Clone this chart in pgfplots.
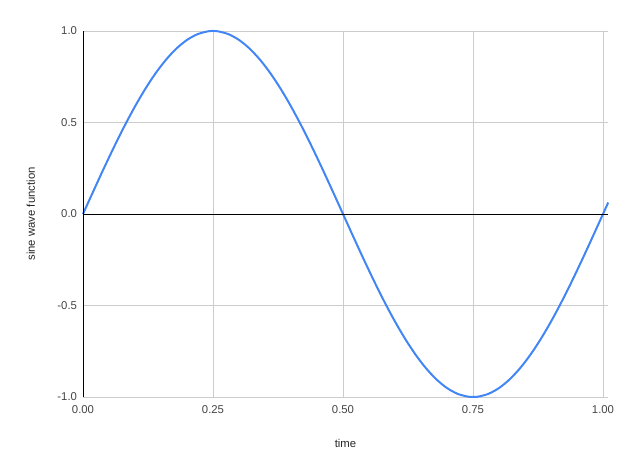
\documentclass[border=0pt]{standalone}
\usepackage{pgfplots}
\pgfplotsset{compat=1.18}
\usepackage{fontspec}
\setmainfont{Liberation Sans}
\definecolor{wave}{HTML}{4285F4}
\definecolor{gridc}{HTML}{CCCCCC}
\definecolor{tickc}{HTML}{444444}

\begin{document}
\begin{tikzpicture}[x=1pt,y=1pt]
\path[use as bounding box] (-62.25pt,-57pt) rectangle (411.75pt,297.75pt);
\begin{axis}[at={(0,0)}, anchor=south west, scale only axis,
  width=393.75pt, height=274.5pt,
  xmin=0, xmax=1.0096, ymin=-1, ymax=1,
  xtick={0,0.25,0.5,0.75,1}, ytick={-1,-0.5,0,0.5,1},
  xticklabel style={/pgf/number format/.cd, fixed, fixed zerofill, precision=2},
  yticklabel style={/pgf/number format/.cd, fixed, fixed zerofill, precision=1},
  /pgf/number format/assume math mode=true,
  tick label style={font=\fontsize{8.5}{10}\selectfont, text=tickc},
  label style={font=\fontsize{8.5}{10}\selectfont, text=black!85},
  major tick length=0pt,
  grid=major, grid style={gridc, line width=0.6pt},
  axis line style={draw=none},
  xticklabel shift=3pt, yticklabel shift=1pt,
  xlabel={time}, ylabel={sine wave function},
  xlabel style={yshift=-12pt}, ylabel style={yshift=10pt},
  clip=false]
  \addplot[wave, line width=1.5pt, smooth, line join=round] coordinates {
    (0,0) (0.02,0.1253) (0.04,0.2487) (0.06,0.3681) (0.08,0.4818) (0.10,0.5878)
    (0.12,0.6845) (0.14,0.7705) (0.16,0.8443) (0.18,0.9048) (0.20,0.9511)
    (0.22,0.9823) (0.24,0.9980) (0.25,1) (0.26,0.9980) (0.28,0.9823) (0.30,0.9511)
    (0.32,0.9048) (0.34,0.8443) (0.36,0.7705) (0.38,0.6845) (0.40,0.5878)
    (0.42,0.4818) (0.44,0.3681) (0.46,0.2487) (0.48,0.1253) (0.50,0)
    (0.52,-0.1253) (0.54,-0.2487) (0.56,-0.3681) (0.58,-0.4818) (0.60,-0.5878)
    (0.62,-0.6845) (0.64,-0.7705) (0.66,-0.8443) (0.68,-0.9048) (0.70,-0.9511)
    (0.72,-0.9823) (0.74,-0.9980) (0.75,-1) (0.76,-0.9980) (0.78,-0.9823) (0.80,-0.9511)
    (0.82,-0.9048) (0.84,-0.8443) (0.86,-0.7705) (0.88,-0.6845) (0.90,-0.5878)
    (0.92,-0.4818) (0.94,-0.3681) (0.96,-0.2487) (0.98,-0.1253) (1.00,0) (1.01,0.0628)
  };
  \draw[black, line width=0.6pt] (axis cs:0,0) -- (axis cs:1.0096,0);
  \draw[black, line width=0.6pt] (axis cs:0,-1) -- (axis cs:0,1);
\end{axis}
\end{tikzpicture}
\end{document}
